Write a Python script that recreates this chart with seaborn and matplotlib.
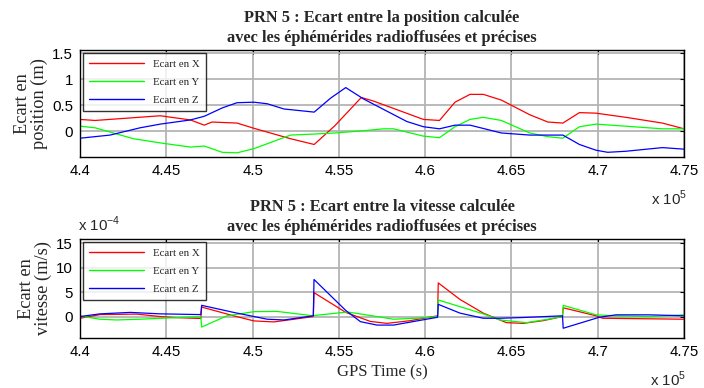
import numpy as np
import pandas as pd
import matplotlib
matplotlib.use("Agg")
import matplotlib.pyplot as plt
import seaborn as sns

# --- position error (m), time in units of 1e5 s ---
pos_t_x = [4.4000, 4.4087, 4.4465, 4.4640, 4.4720, 4.4765, 4.4910, 4.5008, 4.5220, 4.5357,
           4.5477, 4.5630, 4.5702, 4.5990, 4.6083, 4.6173, 4.6260, 4.6337, 4.6442, 4.6606,
           4.6711, 4.6798, 4.6894, 4.6990, 4.7163, 4.7375, 4.7500]
pos_x = [0.23, 0.21, 0.30, 0.22, 0.12, 0.18, 0.16, 0.06, -0.14, -0.25,
         0.11, 0.65, 0.58, 0.23, 0.21, 0.56, 0.71, 0.71, 0.60, 0.32,
         0.18, 0.16, 0.36, 0.35, 0.27, 0.16, 0.05]

pos_t_y = [4.4000, 4.4087, 4.4310, 4.4465, 4.4640, 4.4720, 4.4824, 4.4910, 4.5008, 4.5220,
           4.5357, 4.5477, 4.5630, 4.5760, 4.5817, 4.5990, 4.6083, 4.6173, 4.6260, 4.6337,
           4.6442, 4.6606, 4.6711, 4.6798, 4.6894, 4.6990, 4.7163, 4.7375, 4.7500]
pos_y = [0.10, 0.07, -0.14, -0.22, -0.30, -0.28, -0.40, -0.41, -0.33, -0.07,
         -0.05, -0.03, 0.01, 0.05, 0.05, -0.09, -0.12, 0.09, 0.23, 0.27,
         0.21, -0.03, -0.10, -0.13, 0.09, 0.14, 0.10, 0.05, 0.05]

pos_t_z = [4.4000, 4.4087, 4.4174, 4.4349, 4.4465, 4.4640, 4.4720, 4.4824, 4.4910, 4.5008,
           4.5085, 4.5182, 4.5357, 4.5453, 4.5540, 4.5644, 4.5760, 4.5894, 4.5990, 4.6083,
           4.6173, 4.6260, 4.6442, 4.6606, 4.6798, 4.6894, 4.6990, 4.7058, 4.7163, 4.7375,
           4.7500]
pos_z = [-0.13, -0.10, -0.07, 0.07, 0.14, 0.22, 0.29, 0.45, 0.55, 0.56,
         0.53, 0.43, 0.37, 0.64, 0.84, 0.62, 0.42, 0.19, 0.09, 0.05,
         0.12, 0.12, -0.03, -0.07, -0.07, -0.25, -0.36, -0.40, -0.38, -0.31,
         -0.34]

# --- velocity error (x 1e-4 m/s) ---
vel_t_x = [4.4000, 4.4116, 4.4330, 4.4465, 4.4543, 4.4700, 4.4705, 4.4890, 4.5008, 4.5124,
           4.5240, 4.5352, 4.5356, 4.5540, 4.5682, 4.5779, 4.5913, 4.6072, 4.6076, 4.6202,
           4.6337, 4.6471, 4.6567, 4.6683, 4.6796, 4.6800, 4.6990, 4.7029, 4.7500]
vel_x = [-0.35, 0.4, 0.5, 0.0, -0.2, -0.4, 1.95, 0.15, -0.9, -1.1,
         -0.55, 0.0, 4.9, 0.85, -1.0, -1.4, -0.85, 0.15, 6.9, 3.5,
         0.7, -1.25, -1.4, -0.85, 0.0, 1.8, 0.15, -0.35, -0.55]

vel_t_y = [4.4000, 4.4116, 4.4213, 4.4349, 4.4504, 4.4700, 4.4705, 4.4852, 4.5008, 4.5143,
           4.5352, 4.5356, 4.5540, 4.5567, 4.5721, 4.5817, 4.5952, 4.6072, 4.6076, 4.6337,
           4.6433, 4.6587, 4.6721, 4.6796, 4.6800, 4.6990, 4.7106, 4.7300, 4.7500]
vel_y = [0.1, -0.55, -0.7, -0.55, -0.3, -0.05, -2.15, 0.15, 1.0, 1.05,
         0.15, 0.2, 0.9, 0.85, 0.0, -0.55, -0.35, 0.0, 3.4, 0.55,
         -0.7, -1.25, -0.5, 0.0, 2.3, 0.35, 0.15, 0.0, 0.35]

vel_t_z = [4.4000, 4.4116, 4.4291, 4.4465, 4.4700, 4.4705, 4.4890, 4.5085, 4.5182, 4.5352,
           4.5356, 4.5540, 4.5625, 4.5721, 4.5817, 4.5952, 4.6072, 4.6076, 4.6202, 4.6337,
           4.6433, 4.6567, 4.6796, 4.6800, 4.7009, 4.7106, 4.7300, 4.7500]
vel_z = [0.0, 0.55, 0.85, 0.55, 0.4, 2.3, 0.85, -0.55, -0.7, 0.15,
         7.6, 1.25, -1.05, -1.75, -1.75, -0.9, -0.15, 2.5, 0.7, -0.35,
         -0.35, -0.2, 0.15, -2.4, -0.15, 0.35, 0.35, 0.15]

labels = ["Ecart en X", "Ecart en Y", "Ecart en Z"]
colors = ["#ff0000", "#00ff00", "#0000ff"]
xticks = [4.4, 4.45, 4.5, 4.55, 4.6, 4.65, 4.7, 4.75]
xticklabels = ["4.4", "4.45", "4.5", "4.55", "4.6", "4.65", "4.7", "4.75"]

sns.set_style("white")
plt.rcParams["font.family"] = ["Liberation Sans", "DejaVu Sans"]
plt.rcParams["mathtext.fontset"] = "custom"
plt.rcParams["mathtext.rm"] = "Liberation Sans"

serif = ["Liberation Serif", "DejaVu Serif"]

fig = plt.figure(figsize=(7.04, 3.88), dpi=100)
ax1 = fig.add_axes([80 / 704, 1 - 157 / 388, 604 / 704, 107 / 388])
ax2 = fig.add_axes([80 / 704, 1 - 338 / 388, 604 / 704, 99 / 388])


def draw(ax, series):
    for (t, v), lab, c in zip(series, labels, colors):
        sns.lineplot(x=t, y=v, ax=ax, color=c, lw=0.9, label=lab,
                     sort=False, estimator=None)


def style(ax, yticks, ylim, ylabel, title):
    ax.set_xlim(4.4, 4.75)
    ax.set_ylim(*ylim)
    ax.set_xticks(xticks)
    ax.set_xticklabels(xticklabels)
    ax.set_yticks(yticks)
    ax.set_yticklabels([f"{y:g}" for y in yticks])
    ax.tick_params(direction="in", top=True, right=True, labelsize=10.8,
                   length=3, width=0.8, colors="black", pad=5)
    ax.grid(True, color="#b4b4b4", lw=1.3)
    ax.set_axisbelow(True)
    for s in ax.spines.values():
        s.set_color("black")
        s.set_linewidth(1.0)
    ax.set_ylabel(ylabel, family=serif, fontsize=13.2, linespacing=1.0, labelpad=3)
    ax.set_title(title, family=serif, fontsize=11.8, fontweight="bold",
                 linespacing=1.32, pad=6)
    leg = ax.legend(loc="upper left", prop={"family": serif, "size": 7.8},
                    fancybox=False, frameon=True, handlelength=5.1,
                    handletextpad=0.8, labelspacing=0.78, borderpad=0.6,
                    borderaxespad=0.25)
    leg.get_frame().set_edgecolor("black")
    leg.get_frame().set_linewidth(1.0)
    for line in leg.get_lines():
        line.set_linewidth(1.0)


draw(ax1, [(pos_t_x, pos_x), (pos_t_y, pos_y), (pos_t_z, pos_z)])
style(ax1, [0, 0.5, 1, 1.5], (-0.49, 1.56), "Ecart en\nposition (m)",
      "PRN 5 : Ecart entre la position calculée\navec les éphémérides radioffusées et précises")

draw(ax2, [(vel_t_x, vel_x), (vel_t_y, vel_y), (vel_t_z, vel_z)])
style(ax2, [0, 5, 10, 15], (-4.4, 15.9), "Ecart en\nvitesse (m/s)",
      "PRN 5 : Ecart entre la vitesse calculée\navec les éphémérides radioffusées et précises")
ax2.set_xlabel("GPS Time (s)", family=serif, fontsize=12, labelpad=4)

fig.text(651 / 704, 1 - 205 / 388, r"x 10$^{5}$", fontsize=10.8)
fig.text(650 / 704, 1 - 386 / 388, r"x 10$^{5}$", fontsize=10.8)
fig.text(78 / 704, 1 - 231 / 388, r"x 10$^{-4}$", fontsize=10.8)

fig.savefig("out.png", dpi=100)
